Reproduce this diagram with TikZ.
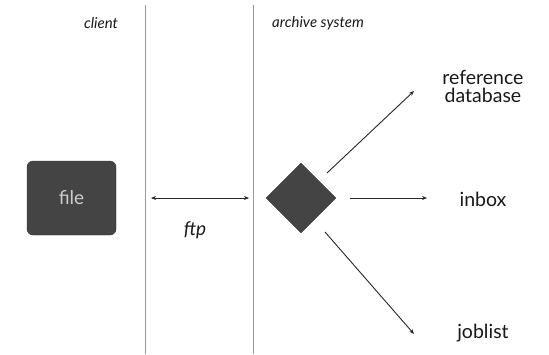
\documentclass[tikz,border=0pt]{standalone}
\usepackage{fontspec}
\setmainfont{Lato}
\usetikzlibrary{shapes.geometric,arrows.meta}
\definecolor{boxgray}{HTML}{444444}
\definecolor{linegray}{HTML}{9A9A9A}
\begin{document}
\begin{tikzpicture}[x=1pt,y=-1pt,
  lane/.style={draw=linegray,line width=0.9pt},
  conn/.style={draw=black!85,line width=0.9pt,-{Stealth[length=5pt,width=4pt]}},
  lbl/.style={font=\fontsize{19.5}{21}\selectfont,text=black!90,align=center},
  hdr/.style={font=\fontsize{15}{17}\selectfont\itshape,text=black!90}]
\useasboundingbox (0,0) rectangle (549,354);
\coordinate (l1t) at (145,5); \coordinate (l1b) at (145,354);
\coordinate (l2t) at (253,5); \coordinate (l2b) at (253,354);
\draw[lane] (l1t) -- (l1b);
\draw[lane] (l2t) -- (l2b);
\node[hdr] (client) at (101,23) {client};
\node[hdr] (arch) at (318,23) {archive system};
\node[draw=boxgray!70!black,fill=boxgray,rounded corners=6pt,minimum width=89pt,minimum height=74pt,
  text=black!20,font=\fontsize{19}{21}\selectfont] (file) at (71.5,198) {file};
\coordinate (fa) at (151,198); \coordinate (fb) at (249,198);
\draw[draw=black!85,line width=0.9pt,{Stealth[length=5pt,width=4pt]}-{Stealth[length=5pt,width=4pt]}] (fa) -- (fb);
\node[font=\fontsize{19}{21}\selectfont\itshape,text=black!90] (ftp) at (195,230) {ftp};
\node[diamond,fill=boxgray,draw=boxgray!70!black,minimum width=70pt,minimum height=70pt,inner sep=0pt] (dia) at (301,198) {};
\node[lbl] (ref) at (483,86) {reference\\[-3pt]database};
\node[lbl] (inbox) at (483,199) {inbox};
\node[lbl] (job) at (483,333) {joblist};
\coordinate (a1s) at (327,173); \coordinate (a1e) at (414,91);
\coordinate (a2s) at (350,198); \coordinate (a2e) at (427,198);
\coordinate (a3s) at (325,232); \coordinate (a3e) at (414,334);
\draw[conn] (a1s) -- (a1e);
\draw[conn] (a2s) -- (a2e);
\draw[conn] (a3s) -- (a3e);
\end{tikzpicture}
\end{document}
